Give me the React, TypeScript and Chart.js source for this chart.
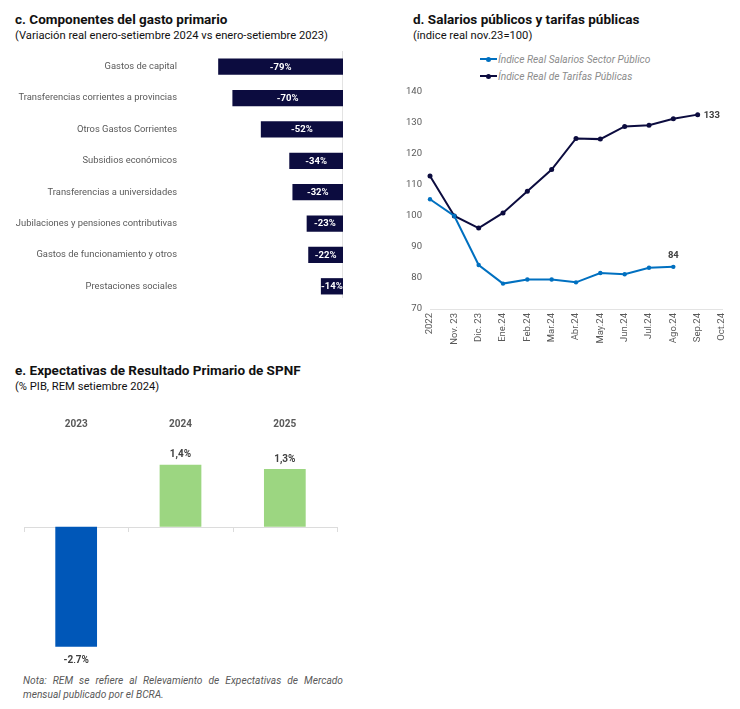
import React, { useEffect, useRef } from "react";
import { Chart, registerables } from "chart.js";

Chart.register(...registerables);

const FONT = "Roboto, 'Liberation Sans', sans-serif";

// c. Componentes del gasto primario
const gastoCategories = [
  "Gastos de capital",
  "Transferencias corrientes a provincias",
  "Otros Gastos Corrientes",
  "Subsidios económicos",
  "Transferencias a universidades",
  "Jubilaciones y pensiones contributivas",
  "Gastos de funcionamiento y otros",
  "Prestaciones sociales",
];
const gastoValues = [-79, -70, -52, -34, -32, -23, -22, -14];

// d. Salarios públicos y tarifas públicas
const mesLabels = [
  "2022", "Nov. 23", "Dic. 23", "Ene.24", "Feb.24", "Mar.24", "Abr.24",
  "May.24", "Jun.24", "Jul.24", "Ago.24", "Sep.24", "Oct.24",
];
const salariosValues = [105.4, 100, 84.2, 78.2, 79.5, 79.5, 78.6, 81.6, 81.2, 83.3, 83.6, null, null];
const tarifasValues = [112.9, 100, 96.1, 101.0, 108.0, 115.0, 125.0, 124.8, 128.9, 129.3, 131.4, 132.7, null];
const salariosName = "Índice Real Salarios Sector Público";
const tarifasName = "Índice Real de Tarifas Públicas";

// e. Expectativas de Resultado Primario de SPNF
const remYears = ["2023", "2024", "2025"];
const remValues = [-2.7, 1.4, 1.3];

const NAVY = "#0c0c3f";
const BLUE = "#0070c0";

const noPadY = (w: number) => (s: any) => {
  s.width = w;
  s.paddingTop = 0;
  s.paddingBottom = 0;
};

function GastoChart() {
  const ref = useRef<HTMLCanvasElement | null>(null);
  useEffect(() => {
    const labelPlugin = {
      id: "gastoLabels",
      beforeDatasetsDraw(chart: any) {
        const ctx = chart.ctx;
        const { top, bottom } = chart.chartArea;
        const x0 = Math.round(chart.scales.x.getPixelForValue(0)) - 0.5;
        ctx.save();
        ctx.strokeStyle = "#e3e3e3";
        ctx.lineWidth = 1;
        ctx.beginPath();
        ctx.moveTo(x0, top);
        ctx.lineTo(x0, bottom - 4);
        ctx.stroke();
        ctx.restore();
      },
      afterDatasetsDraw(chart: any) {
        const ctx = chart.ctx;
        const meta = chart.getDatasetMeta(0);
        meta.data.forEach((bar: any, i: number) => {
          const p = bar.getProps(["x", "y", "base", "height"], true);
          const left = Math.min(p.x, p.base);
          const right = Math.max(p.x, p.base);
          ctx.save();
          ctx.beginPath();
          ctx.rect(left, p.y - p.height / 2, right - left, p.height);
          ctx.clip();
          ctx.fillStyle = "#ffffff";
          ctx.font = `bold 9.5px ${FONT}`;
          ctx.textAlign = "center";
          ctx.textBaseline = "middle";
          ctx.fillText(`${gastoValues[i]}%`, (left + right) / 2, p.y + 0.5);
          ctx.restore();
        });
      },
    };
    const chart = new Chart(ref.current!, {
      type: "bar",
      data: {
        labels: gastoCategories,
        datasets: [
          {
            data: gastoValues,
            backgroundColor: NAVY,
            borderWidth: 0,
            barPercentage: 0.52,
            categoryPercentage: 1,
          },
        ],
      },
      options: {
        indexAxis: "y",
        animation: false,
        responsive: false,
        layout: { padding: { top: 1, bottom: 2, right: 1, left: 0 } },
        plugins: { legend: { display: false }, tooltip: { enabled: false } },
        scales: {
          x: {
            min: -100,
            max: 0,
            afterFit: (s: any) => {
              s.height = 0;
              s.paddingLeft = 0;
              s.paddingRight = 0;
            },
            ticks: { display: false },
            border: { display: false },
            grid: { display: false, drawTicks: false },
          },
          y: {
            afterFit: noPadY(185),
            border: { display: false },
            grid: { display: false, drawTicks: false },
            ticks: {
              color: "#595959",
              padding: 8,
              font: { size: 9.4, family: FONT },
            },
          },
        },
      },
      plugins: [labelPlugin],
    } as any);
    return () => chart.destroy();
  }, []);
  return <canvas ref={ref} width={344} height={254} style={{ position: "absolute", left: 0, top: 50, width: 344, height: 254 }} />;
}

function LineChart() {
  const ref = useRef<HTMLCanvasElement | null>(null);
  useEffect(() => {
    const labelPlugin = {
      id: "lineLabels",
      afterDatasetsDraw(chart: any) {
        const ctx = chart.ctx;
        ctx.save();
        ctx.font = `bold 9.5px ${FONT}`;
        ctx.fillStyle = "#404040";
        ctx.textBaseline = "middle";
        let ti = -1;
        tarifasValues.forEach((v, i) => { if (v !== null) ti = i; });
        const tp = chart.getDatasetMeta(1).data[ti];
        ctx.textAlign = "left";
        ctx.fillText(String(Math.round(tarifasValues[ti] as number)), tp.x + 6, tp.y + 1);
        let si = -1;
        salariosValues.forEach((v, i) => { if (v !== null) si = i; });
        const sp = chart.getDatasetMeta(0).data[si];
        ctx.textAlign = "center";
        ctx.fillText(String(Math.round(salariosValues[si] as number)), sp.x, sp.y - 11);
        ctx.restore();
      },
    };
    const chart = new Chart(ref.current!, {
      type: "line",
      data: {
        labels: mesLabels,
        datasets: [
          {
            label: salariosName,
            data: salariosValues,
            borderColor: BLUE,
            backgroundColor: BLUE,
            borderWidth: 2,
            pointRadius: 2.2,
            pointBorderWidth: 0,
            pointBackgroundColor: BLUE,
            tension: 0,
          },
          {
            label: tarifasName,
            data: tarifasValues,
            borderColor: NAVY,
            backgroundColor: NAVY,
            borderWidth: 2,
            pointRadius: 2.5,
            pointBorderWidth: 0,
            pointBackgroundColor: NAVY,
            tension: 0,
          },
        ],
      },
      options: {
        animation: false,
        responsive: false,
        layout: { padding: { top: 7, right: 18, left: 0, bottom: 0 } },
        plugins: { legend: { display: false }, tooltip: { enabled: false } },
        scales: {
          x: {
            offset: false,
            afterFit: (s: any) => {
              s.height = 41;
              s.paddingLeft = 0;
              s.paddingRight = 0;
            },
            border: { display: true, color: "#e3e3e3" },
            grid: { display: false, drawTicks: false },
            ticks: {
              minRotation: 90,
              maxRotation: 90,
              autoSkip: false,
              padding: 4,
              color: "#595959",
              font: { size: 9.5, family: FONT },
            },
          },
          y: {
            min: 70,
            max: 140,
            afterFit: noPadY(32),
            border: { display: false },
            grid: { display: false, drawTicks: false },
            ticks: {
              stepSize: 10,
              padding: 8,
              color: "#595959",
              font: { size: 9.5, family: FONT },
            },
          },
        },
      },
      plugins: [labelPlugin],
    } as any);
    return () => chart.destroy();
  }, []);
  return <canvas ref={ref} width={342} height={265} style={{ position: "absolute", left: 398, top: 85, width: 342, height: 265 }} />;
}

function RemChart() {
  const ref = useRef<HTMLCanvasElement | null>(null);
  useEffect(() => {
    const plugin = {
      id: "remExtras",
      beforeDatasetsDraw(chart: any) {
        const ctx = chart.ctx;
        const { left, right } = chart.chartArea;
        const y0 = chart.scales.y.getPixelForValue(0);
        ctx.save();
        ctx.strokeStyle = "#dcdcdc";
        ctx.lineWidth = 1;
        ctx.beginPath();
        ctx.moveTo(left, Math.round(y0) + 0.5);
        ctx.lineTo(right, Math.round(y0) + 0.5);
        const n = remYears.length;
        for (let i = 0; i <= n; i++) {
          const x = Math.round(left + ((right - left) * i) / n) + 0.5;
          ctx.moveTo(x, Math.round(y0));
          ctx.lineTo(x, Math.round(y0) + 5);
        }
        ctx.stroke();
        ctx.restore();
      },
      afterDatasetsDraw(chart: any) {
        const ctx = chart.ctx;
        const meta = chart.getDatasetMeta(0);
        ctx.save();
        ctx.font = `bold 10px ${FONT}`;
        ctx.fillStyle = "#404040";
        ctx.textAlign = "center";
        ctx.textBaseline = "middle";
        meta.data.forEach((bar: any, i: number) => {
          const v = remValues[i];
          const txt = v.toFixed(1).replace(".", ",") + "%";
          const y = v >= 0 ? bar.y - 10 : bar.y + 14;
          ctx.fillText(txt, bar.x, y);
        });
        ctx.restore();
      },
    };
    const chart = new Chart(ref.current!, {
      type: "bar",
      data: {
        labels: remYears,
        datasets: [
          {
            data: remValues,
            backgroundColor: remValues.map((v) => (v < 0 ? "#0057b8" : "#9cd681")),
            borderWidth: 0,
            barPercentage: 0.4,
            categoryPercentage: 1,
          },
        ],
      },
      options: {
        animation: false,
        responsive: false,
        layout: { padding: { top: 0, right: 8, left: 24, bottom: 3 } },
        plugins: { legend: { display: false }, tooltip: { enabled: false } },
        scales: {
          x: {
            position: "top",
            afterFit: (s: any) => {
              s.height = 33;
            },
            border: { display: false },
            grid: { display: false, drawTicks: false },
            ticks: {
              padding: 8,
              color: "#595959",
              font: { size: 10, weight: "bold", family: FONT },
            },
          },
          y: {
            display: false,
            min: -3,
            max: 2,
          },
        },
      },
      plugins: [plugin],
    } as any);
    return () => chart.destroy();
  }, []);
  return <canvas ref={ref} width={345} height={258} style={{ position: "absolute", left: 0, top: 405, width: 345, height: 258 }} />;
}

function LegendItem({ color, label, top }: { color: string; label: string; top: number }) {
  return (
    <div style={{ position: "absolute", left: 480, top, height: 12, display: "flex", alignItems: "center" }}>
      <div style={{ position: "relative", width: 17, height: 12, marginRight: 1 }}>
        <div style={{ position: "absolute", left: 0, top: 5, width: 17, height: 2, background: color }} />
        <div style={{ position: "absolute", left: 6, top: 3.5, width: 5, height: 5, borderRadius: "50%", background: color }} />
      </div>
      <span style={{ fontStyle: "italic", color: "#8c8c8c", fontSize: 10.2, whiteSpace: "nowrap" }}>{label}</span>
    </div>
  );
}

export default function App() {
  const titleStyle: React.CSSProperties = {
    position: "absolute",
    fontWeight: "bold",
    fontSize: 13.5,
    color: "#111",
    whiteSpace: "nowrap",
    lineHeight: "16px",
  };
  const subStyle: React.CSSProperties = {
    position: "absolute",
    fontSize: 11.2,
    color: "#111",
    whiteSpace: "nowrap",
    lineHeight: "14px",
  };
  return (
    <div style={{ position: "absolute", left: 0, top: 0, width: 740, height: 709, background: "#fff", fontFamily: FONT, overflow: "hidden" }}>
      <div style={{ ...titleStyle, left: 15, top: 11 }}>c. Componentes del gasto primario</div>
      <div style={{ ...subStyle, left: 15, top: 29 }}>(Variación real enero-setiembre 2024 vs enero-setiembre 2023)</div>
      <GastoChart />

      <div style={{ ...titleStyle, left: 413, top: 11 }}>d. Salarios públicos y tarifas públicas</div>
      <div style={{ ...subStyle, left: 413, top: 29 }}>(índice real nov.23=100)</div>
      <LegendItem color={BLUE} label={salariosName} top={53} />
      <LegendItem color={NAVY} label={tarifasName} top={70} />
      <LineChart />

      <div style={{ ...titleStyle, left: 15, top: 362 }}>e. Expectativas de Resultado Primario de SPNF</div>
      <div style={{ ...subStyle, left: 15, top: 380 }}>(% PIB, REM setiembre 2024)</div>
      <RemChart />

      <div
        style={{
          position: "absolute",
          left: 23,
          top: 674,
          width: 320,
          fontSize: 10.2,
          lineHeight: "14px",
          fontStyle: "italic",
          color: "#595959",
          textAlign: "justify",
        }}
      >
        Nota: REM se refiere al Relevamiento de Expectativas de Mercado mensual publicado por el BCRA.
      </div>
    </div>
  );
}
